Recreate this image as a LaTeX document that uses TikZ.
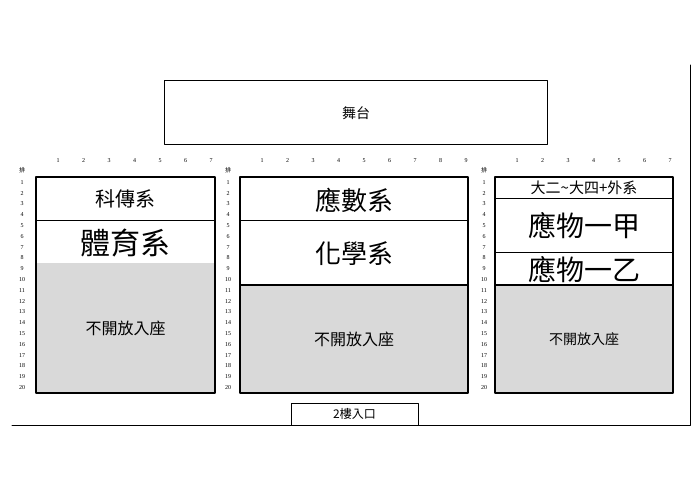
\documentclass[tikz,border=0pt]{standalone}
\usepackage{fontspec}
\setmainfont{Liberation Serif}
\newfontfamily\cjk{Noto Sans CJK TC}
\usetikzlibrary{positioning}
\tikzset{>=latex}
\tikzset{every text node part/.style={align=center}}
\tikzset{
	block/.style={draw, line width=1.2pt},
	seat/.style={font=\fontsize{6}{6}\selectfont, inner sep=0pt},
	hall/.style={line width=1pt},
	closed/.style={fill=black!15},
}
\definecolor{closedgray}{HTML}{D9D9D9}
% row numbers 1..20 beside a block
\newcommand{\rownums}[1]{%
	\node[seat] at (#1,170) {\cjk 排};
	\foreach \r in {1,...,20}
		\node[seat] at (#1,{177+(\r-0.5)*10.8}) {\r};
}
% column numbers above a block
\newcommand{\colnums}[2]{%
	\foreach \c in {1,...,#2}
		\node[seat] at ({#1+(\c-1)*25.5},161) {\c};
}
\begin{document}
\begin{tikzpicture}[x=1pt, y=-1pt, line cap=round, line join=round]
	\useasboundingbox (0,0) rectangle (700,495);

	% Stage
	\draw[hall] (164,80) rectangle (547,144);
	\node[font=\cjk\fontsize{14}{14}\selectfont] (stage) at (356,113) {舞台};

	% Left block
	\fill[closedgray] (36,263.4) rectangle (215,393);
	\draw[block] (36,177) rectangle (215,393);
	\draw[block] (36,220.2) -- (215,220.2);
	\node[font=\cjk\fontsize{20}{20}\selectfont] (kc) at (125.5,199) {科傳系};
	\node[font=\cjk\fontsize{30}{30}\selectfont] (ty) at (125.5,243) {體育系};
	\node[font=\cjk\fontsize{16}{16}\selectfont] (cl1) at (125.5,328) {不開放入座};
	\rownums{22}
	\colnums{58}{7}

	% Middle block
	\fill[closedgray] (240,285) rectangle (468,393);
	\draw[block] (240,177) rectangle (468,393);
	\draw[block] (240,220.2) -- (468,220.2);
	\draw[block] (240,285) -- (468,285);
	\node[font=\cjk\fontsize{26}{26}\selectfont] (ys) at (354,200) {應數系};
	\node[font=\cjk\fontsize{26}{26}\selectfont] (hx) at (354,254) {化學系};
	\node[font=\cjk\fontsize{16}{16}\selectfont] (cl2) at (354,339) {不開放入座};
	\rownums{228}
	\colnums{262}{9}

	% Right block
	\fill[closedgray] (495,285) rectangle (673,393);
	\draw[block] (495,177) rectangle (673,393);
	\draw[block] (495,198.6) -- (673,198.6);
	\draw[block] (495,252.6) -- (673,252.6);
	\draw[block] (495,285) -- (673,285);
	\node[font=\cjk\fontsize{15}{15}\selectfont] (ext) at (584,188) {大二\textasciitilde 大四+外系};
	\node[font=\cjk\fontsize{28}{28}\selectfont] (wa) at (584,226) {應物一甲};
	\node[font=\cjk\fontsize{28}{28}\selectfont] (wb) at (584,270) {應物一乙};
	\node[font=\cjk\fontsize{14}{14}\selectfont] (cl3) at (584,339) {不開放入座};
	\rownums{484}
	\colnums{517}{7}

	% Entrance, floor and wall
	\draw[hall] (291,425) -- (291,403) -- (418,403) -- (418,425);
	\node[font=\cjk\fontsize{12}{12}\selectfont] (door) at (354.5,414) {2樓入口};
	\draw[hall] (12,425) -- (690,425) -- (690,65);
\end{tikzpicture}
\end{document}
